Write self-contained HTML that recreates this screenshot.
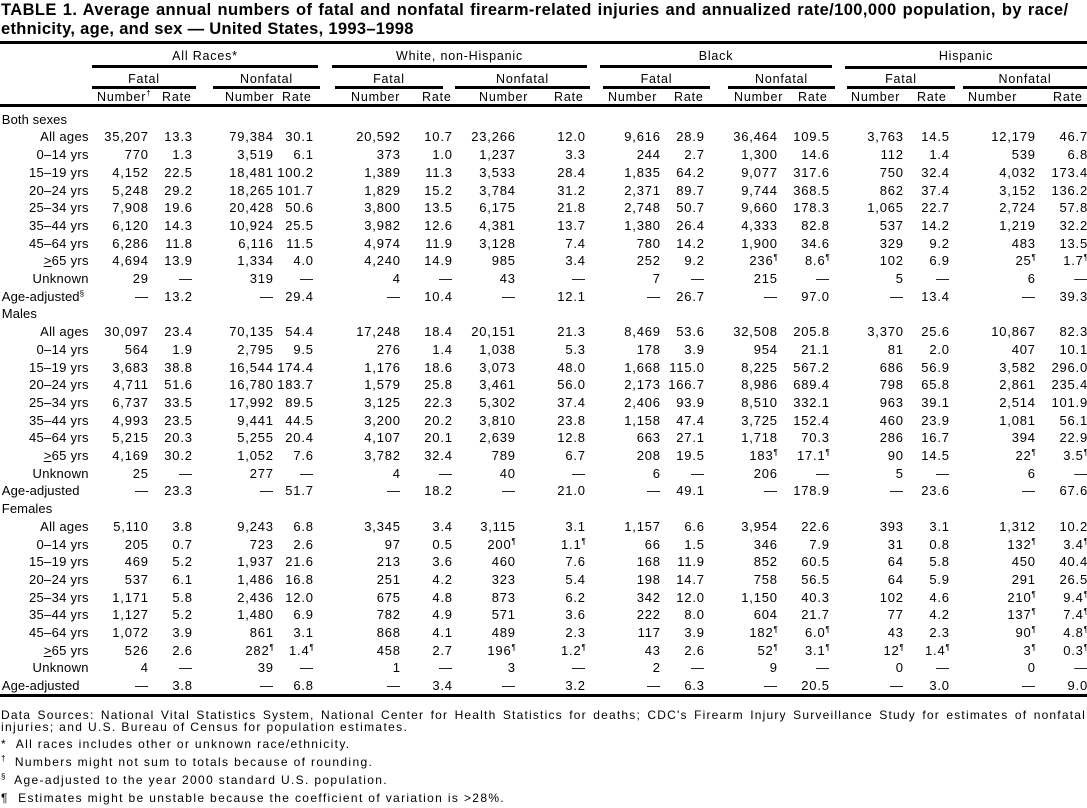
<!DOCTYPE html>
<html><head><meta charset="utf-8"><style>
body{margin:0;width:1087px;height:808px;background:#fff;position:relative;overflow:hidden;font-family:"Liberation Sans",Arial,sans-serif;color:#000}
.t{position:absolute;left:1px;font-weight:bold;font-size:16.5px;line-height:19px;white-space:nowrap;letter-spacing:0.4px}
.r{position:absolute;background:#000}
.h{position:absolute;font-size:12.5px;text-align:center;white-space:nowrap;line-height:14px;letter-spacing:0.8px}
table{position:absolute;left:0.8px;top:110.7px;border-collapse:collapse;table-layout:fixed;width:1087px;font-size:13px;letter-spacing:0.8px}
td{padding:0;height:17.7px;line-height:17.7px;text-align:right;white-space:nowrap;overflow:visible}
td:first-child{padding-right:4px;letter-spacing:0.3px}
td.s{text-align:left;padding-left:1px;letter-spacing:0.1px}
sup{font-size:8px;line-height:0;vertical-align:5px;letter-spacing:0}
.f{position:absolute;left:1px;font-size:12px;line-height:13px;white-space:nowrap;letter-spacing:1.35px}
</style></head><body>
<div class="t" style="top:1px;word-spacing:1px">TABLE 1. Average annual numbers of fatal and nonfatal firearm-related injuries and annualized rate/100,000 population, by race/</div>
<div class="t" style="top:20px;letter-spacing:0.3px">ethnicity, age, and sex — United States, 1993–1998</div>
<div class="r" style="left:0;top:41px;width:1087px;height:3px"></div>

<div class="h" style="left:92px;width:226px;top:49px">All Races*</div>
<div class="h" style="left:332px;width:255px;top:49px">White, non-Hispanic</div>
<div class="h" style="left:600px;width:232px;top:49px">Black</div>
<div class="h" style="left:845px;width:242px;top:49px">Hispanic</div>
<div class="r" style="left:92px;top:65px;width:226px;height:3px"></div>
<div class="r" style="left:332px;top:65px;width:255px;height:3px"></div>
<div class="r" style="left:600px;top:65px;width:232px;height:3px"></div>
<div class="r" style="left:845px;top:66px;width:242px;height:3px"></div>

<div class="h" style="left:92px;width:104px;top:72px">Fatal</div>
<div class="h" style="left:213px;width:107px;top:72px">Nonfatal</div>
<div class="h" style="left:335px;width:108px;top:72px">Fatal</div>
<div class="h" style="left:455px;width:135px;top:72px">Nonfatal</div>
<div class="h" style="left:603px;width:107px;top:72px">Fatal</div>
<div class="h" style="left:728px;width:107px;top:72px">Nonfatal</div>
<div class="h" style="left:847px;width:108px;top:72px">Fatal</div>
<div class="h" style="left:963px;width:124px;top:72px">Nonfatal</div>
<div class="r" style="left:92px;top:86px;width:104px;height:3px"></div>
<div class="r" style="left:213px;top:86px;width:107px;height:3px"></div>
<div class="r" style="left:335px;top:86px;width:108px;height:3px"></div>
<div class="r" style="left:455px;top:86px;width:135px;height:3px"></div>
<div class="r" style="left:603px;top:86px;width:107px;height:3px"></div>
<div class="r" style="left:728px;top:86px;width:107px;height:3px"></div>
<div class="r" style="left:847px;top:86px;width:108px;height:3px"></div>
<div class="r" style="left:963px;top:86px;width:124px;height:3px"></div>

<div class="h" style="left:97px;top:90px">Number<sup>†</sup></div>
<div class="h" style="left:162px;top:90px">Rate</div>
<div class="h" style="left:225px;top:90px">Number</div>
<div class="h" style="left:282px;top:90px">Rate</div>
<div class="h" style="left:351px;top:90px">Number</div>
<div class="h" style="left:422px;top:90px">Rate</div>
<div class="h" style="left:479px;top:90px">Number</div>
<div class="h" style="left:554px;top:90px">Rate</div>
<div class="h" style="left:608px;top:90px">Number</div>
<div class="h" style="left:674px;top:90px">Rate</div>
<div class="h" style="left:734px;top:90px">Number</div>
<div class="h" style="left:798px;top:90px">Rate</div>
<div class="h" style="left:851px;top:90px">Number</div>
<div class="h" style="left:917px;top:90px">Rate</div>
<div class="h" style="left:968px;top:90px">Number</div>
<div class="h" style="left:1053px;top:90px">Rate</div>
<div class="r" style="left:0;top:104px;width:1087px;height:3px"></div>

<table>
<colgroup><col style="width:92px"><col style="width:56px"><col style="width:44px"><col style="width:81px"><col style="width:40px"><col style="width:87px"><col style="width:52px"><col style="width:63px"><col style="width:70px"><col style="width:75px"><col style="width:44px"><col style="width:73px"><col style="width:52px"><col style="width:74px"><col style="width:46px"><col style="width:86px"><col style="width:52px"></colgroup>
<tr><td class="s" colspan="17">Both sexes</td></tr>
<tr><td>All ages</td><td>35,207</td><td>13.3</td><td>79,384</td><td>30.1</td><td>20,592</td><td>10.7</td><td>23,266</td><td>12.0</td><td>9,616</td><td>28.9</td><td>36,464</td><td>109.5</td><td>3,763</td><td>14.5</td><td>12,179</td><td>46.7</td></tr>
<tr><td>0–14 yrs</td><td>770</td><td>1.3</td><td>3,519</td><td>6.1</td><td>373</td><td>1.0</td><td>1,237</td><td>3.3</td><td>244</td><td>2.7</td><td>1,300</td><td>14.6</td><td>112</td><td>1.4</td><td>539</td><td>6.8</td></tr>
<tr><td>15–19 yrs</td><td>4,152</td><td>22.5</td><td>18,481</td><td>100.2</td><td>1,389</td><td>11.3</td><td>3,533</td><td>28.4</td><td>1,835</td><td>64.2</td><td>9,077</td><td>317.6</td><td>750</td><td>32.4</td><td>4,032</td><td>173.4</td></tr>
<tr><td>20–24 yrs</td><td>5,248</td><td>29.2</td><td>18,265</td><td>101.7</td><td>1,829</td><td>15.2</td><td>3,784</td><td>31.2</td><td>2,371</td><td>89.7</td><td>9,744</td><td>368.5</td><td>862</td><td>37.4</td><td>3,152</td><td>136.2</td></tr>
<tr><td>25–34 yrs</td><td>7,908</td><td>19.6</td><td>20,428</td><td>50.6</td><td>3,800</td><td>13.5</td><td>6,175</td><td>21.8</td><td>2,748</td><td>50.7</td><td>9,660</td><td>178.3</td><td>1,065</td><td>22.7</td><td>2,724</td><td>57.8</td></tr>
<tr><td>35–44 yrs</td><td>6,120</td><td>14.3</td><td>10,924</td><td>25.5</td><td>3,982</td><td>12.6</td><td>4,381</td><td>13.7</td><td>1,380</td><td>26.4</td><td>4,333</td><td>82.8</td><td>537</td><td>14.2</td><td>1,219</td><td>32.2</td></tr>
<tr><td>45–64 yrs</td><td>6,286</td><td>11.8</td><td>6,116</td><td>11.5</td><td>4,974</td><td>11.9</td><td>3,128</td><td>7.4</td><td>780</td><td>14.2</td><td>1,900</td><td>34.6</td><td>329</td><td>9.2</td><td>483</td><td>13.5</td></tr>
<tr><td><u>&gt;</u>65 yrs</td><td>4,694</td><td>13.9</td><td>1,334</td><td>4.0</td><td>4,240</td><td>14.9</td><td>985</td><td>3.4</td><td>252</td><td>9.2</td><td>236<sup>¶</sup></td><td>8.6<sup>¶</sup></td><td>102</td><td>6.9</td><td>25<sup>¶</sup></td><td>1.7<sup>¶</sup></td></tr>
<tr><td>Unknown</td><td>29</td><td>—</td><td>319</td><td>—</td><td>4</td><td>—</td><td>43</td><td>—</td><td>7</td><td>—</td><td>215</td><td>—</td><td>5</td><td>—</td><td>6</td><td>—</td></tr>
<tr><td class="s">Age-adjusted<sup>§</sup></td><td>—</td><td>13.2</td><td>—</td><td>29.4</td><td>—</td><td>10.4</td><td>—</td><td>12.1</td><td>—</td><td>26.7</td><td>—</td><td>97.0</td><td>—</td><td>13.4</td><td>—</td><td>39.3</td></tr>
<tr><td class="s" colspan="17">Males</td></tr>
<tr><td>All ages</td><td>30,097</td><td>23.4</td><td>70,135</td><td>54.4</td><td>17,248</td><td>18.4</td><td>20,151</td><td>21.3</td><td>8,469</td><td>53.6</td><td>32,508</td><td>205.8</td><td>3,370</td><td>25.6</td><td>10,867</td><td>82.3</td></tr>
<tr><td>0–14 yrs</td><td>564</td><td>1.9</td><td>2,795</td><td>9.5</td><td>276</td><td>1.4</td><td>1,038</td><td>5.3</td><td>178</td><td>3.9</td><td>954</td><td>21.1</td><td>81</td><td>2.0</td><td>407</td><td>10.1</td></tr>
<tr><td>15–19 yrs</td><td>3,683</td><td>38.8</td><td>16,544</td><td>174.4</td><td>1,176</td><td>18.6</td><td>3,073</td><td>48.0</td><td>1,668</td><td>115.0</td><td>8,225</td><td>567.2</td><td>686</td><td>56.9</td><td>3,582</td><td>296.0</td></tr>
<tr><td>20–24 yrs</td><td>4,711</td><td>51.6</td><td>16,780</td><td>183.7</td><td>1,579</td><td>25.8</td><td>3,461</td><td>56.0</td><td>2,173</td><td>166.7</td><td>8,986</td><td>689.4</td><td>798</td><td>65.8</td><td>2,861</td><td>235.4</td></tr>
<tr><td>25–34 yrs</td><td>6,737</td><td>33.5</td><td>17,992</td><td>89.5</td><td>3,125</td><td>22.3</td><td>5,302</td><td>37.4</td><td>2,406</td><td>93.9</td><td>8,510</td><td>332.1</td><td>963</td><td>39.1</td><td>2,514</td><td>101.9</td></tr>
<tr><td>35–44 yrs</td><td>4,993</td><td>23.5</td><td>9,441</td><td>44.5</td><td>3,200</td><td>20.2</td><td>3,810</td><td>23.8</td><td>1,158</td><td>47.4</td><td>3,725</td><td>152.4</td><td>460</td><td>23.9</td><td>1,081</td><td>56.1</td></tr>
<tr><td>45–64 yrs</td><td>5,215</td><td>20.3</td><td>5,255</td><td>20.4</td><td>4,107</td><td>20.1</td><td>2,639</td><td>12.8</td><td>663</td><td>27.1</td><td>1,718</td><td>70.3</td><td>286</td><td>16.7</td><td>394</td><td>22.9</td></tr>
<tr><td><u>&gt;</u>65 yrs</td><td>4,169</td><td>30.2</td><td>1,052</td><td>7.6</td><td>3,782</td><td>32.4</td><td>789</td><td>6.7</td><td>208</td><td>19.5</td><td>183<sup>¶</sup></td><td>17.1<sup>¶</sup></td><td>90</td><td>14.5</td><td>22<sup>¶</sup></td><td>3.5<sup>¶</sup></td></tr>
<tr><td>Unknown</td><td>25</td><td>—</td><td>277</td><td>—</td><td>4</td><td>—</td><td>40</td><td>—</td><td>6</td><td>—</td><td>206</td><td>—</td><td>5</td><td>—</td><td>6</td><td>—</td></tr>
<tr><td class="s">Age-adjusted</td><td>—</td><td>23.3</td><td>—</td><td>51.7</td><td>—</td><td>18.2</td><td>—</td><td>21.0</td><td>—</td><td>49.1</td><td>—</td><td>178.9</td><td>—</td><td>23.6</td><td>—</td><td>67.6</td></tr>
<tr><td class="s" colspan="17">Females</td></tr>
<tr><td>All ages</td><td>5,110</td><td>3.8</td><td>9,243</td><td>6.8</td><td>3,345</td><td>3.4</td><td>3,115</td><td>3.1</td><td>1,157</td><td>6.6</td><td>3,954</td><td>22.6</td><td>393</td><td>3.1</td><td>1,312</td><td>10.2</td></tr>
<tr><td>0–14 yrs</td><td>205</td><td>0.7</td><td>723</td><td>2.6</td><td>97</td><td>0.5</td><td>200<sup>¶</sup></td><td>1.1<sup>¶</sup></td><td>66</td><td>1.5</td><td>346</td><td>7.9</td><td>31</td><td>0.8</td><td>132<sup>¶</sup></td><td>3.4<sup>¶</sup></td></tr>
<tr><td>15–19 yrs</td><td>469</td><td>5.2</td><td>1,937</td><td>21.6</td><td>213</td><td>3.6</td><td>460</td><td>7.6</td><td>168</td><td>11.9</td><td>852</td><td>60.5</td><td>64</td><td>5.8</td><td>450</td><td>40.4</td></tr>
<tr><td>20–24 yrs</td><td>537</td><td>6.1</td><td>1,486</td><td>16.8</td><td>251</td><td>4.2</td><td>323</td><td>5.4</td><td>198</td><td>14.7</td><td>758</td><td>56.5</td><td>64</td><td>5.9</td><td>291</td><td>26.5</td></tr>
<tr><td>25–34 yrs</td><td>1,171</td><td>5.8</td><td>2,436</td><td>12.0</td><td>675</td><td>4.8</td><td>873</td><td>6.2</td><td>342</td><td>12.0</td><td>1,150</td><td>40.3</td><td>102</td><td>4.6</td><td>210<sup>¶</sup></td><td>9.4<sup>¶</sup></td></tr>
<tr><td>35–44 yrs</td><td>1,127</td><td>5.2</td><td>1,480</td><td>6.9</td><td>782</td><td>4.9</td><td>571</td><td>3.6</td><td>222</td><td>8.0</td><td>604</td><td>21.7</td><td>77</td><td>4.2</td><td>137<sup>¶</sup></td><td>7.4<sup>¶</sup></td></tr>
<tr><td>45–64 yrs</td><td>1,072</td><td>3.9</td><td>861</td><td>3.1</td><td>868</td><td>4.1</td><td>489</td><td>2.3</td><td>117</td><td>3.9</td><td>182<sup>¶</sup></td><td>6.0<sup>¶</sup></td><td>43</td><td>2.3</td><td>90<sup>¶</sup></td><td>4.8<sup>¶</sup></td></tr>
<tr><td><u>&gt;</u>65 yrs</td><td>526</td><td>2.6</td><td>282<sup>¶</sup></td><td>1.4<sup>¶</sup></td><td>458</td><td>2.7</td><td>196<sup>¶</sup></td><td>1.2<sup>¶</sup></td><td>43</td><td>2.6</td><td>52<sup>¶</sup></td><td>3.1<sup>¶</sup></td><td>12<sup>¶</sup></td><td>1.4<sup>¶</sup></td><td>3<sup>¶</sup></td><td>0.3<sup>¶</sup></td></tr>
<tr><td>Unknown</td><td>4</td><td>—</td><td>39</td><td>—</td><td>1</td><td>—</td><td>3</td><td>—</td><td>2</td><td>—</td><td>9</td><td>—</td><td>0</td><td>—</td><td>0</td><td>—</td></tr>
<tr><td class="s">Age-adjusted</td><td>—</td><td>3.8</td><td>—</td><td>6.8</td><td>—</td><td>3.4</td><td>—</td><td>3.2</td><td>—</td><td>6.3</td><td>—</td><td>20.5</td><td>—</td><td>3.0</td><td>—</td><td>9.0</td></tr>
</table>
<div class="r" style="left:0;top:694px;width:1087px;height:3px"></div>

<div class="f" style="top:709px;width:1085px;text-align:justify;text-align-last:justify;white-space:normal;letter-spacing:1.2px">Data Sources: National Vital Statistics System, National Center for Health Statistics for deaths; CDC's Firearm Injury Surveillance Study for estimates of nonfatal</div>
<div class="f" style="top:721px">injuries; and U.S. Bureau of Census for population estimates.</div>
<div class="f" style="top:738px">*&nbsp; All races includes other or unknown race/ethnicity.</div>
<div class="f" style="top:756px"><sup>†</sup>&nbsp; Numbers might not sum to totals because of rounding.</div>
<div class="f" style="top:774px"><sup>§</sup>&nbsp; Age-adjusted to the year 2000 standard U.S. population.</div>
<div class="f" style="top:792px">¶&nbsp; Estimates might be unstable because the coefficient of variation is &gt;28%.</div>
</body></html>
